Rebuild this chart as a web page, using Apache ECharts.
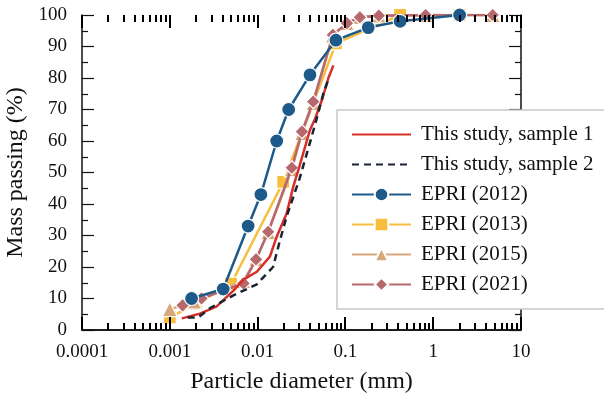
<!DOCTYPE html>
<html>
<head>
<meta charset="utf-8">
<script src="https://cdn.jsdelivr.net/npm/echarts@6/dist/echarts.min.js"></script>
<style>
  html, body { margin: 0; padding: 0; background: #fff; }
  #chart { width: 604px; height: 396px; }
</style>
</head>
<body>
<div id="chart"></div>
<script>
// particle diameter (mm), mass passing (%)
const sample1 = [[0.00137, 3.7], [0.0022, 5.2], [0.0034, 7.4], [0.0053, 12.5], [0.0069, 16], [0.0098, 18.5], [0.0138, 23.3], [0.0165, 29.6], [0.0214, 37], [0.0255, 45.5], [0.03, 52], [0.0395, 63.5], [0.045, 67], [0.054, 73], [0.064, 80], [0.073, 84]];
const sample2 = [[0.0016, 4], [0.0021, 4], [0.0029, 7], [0.0053, 11], [0.0098, 14.5], [0.015, 20], [0.018, 28.5], [0.0214, 36], [0.03, 48], [0.0395, 59.5], [0.047, 67], [0.056, 75], [0.063, 79]];
const epri2012 = [[0.00177, 10], [0.00406, 13], [0.0078, 33], [0.0109, 43], [0.0165, 60], [0.0226, 70], [0.0395, 81], [0.078, 92], [0.182, 96], [0.42, 98], [2, 100]];
const epri2013 = [[0.001, 4], [0.002, 8.3], [0.005, 14.7], [0.0196, 47], [0.078, 91], [0.42, 100], [2, 100]];
const epri2015 = [[0.001, 6.6], [0.0019, 9], [0.0069, 15.5], [0.0096, 22.5], [0.0132, 31], [0.0245, 51], [0.032, 62.5], [0.043, 72], [0.072, 93.5], [0.104, 97.4], [0.146, 99.3], [0.24, 99.8], [0.82, 100], [4.76, 100]];
const epri2021 = [[0.0014, 7.8], [0.0023, 10], [0.0069, 14.8], [0.0096, 22.4], [0.0132, 31.2], [0.0245, 51.5], [0.032, 63], [0.043, 72.5], [0.072, 93.7], [0.104, 97.4], [0.146, 99.3], [0.24, 99.8], [0.82, 100], [4.76, 100]];
const xTicks = [0.0001, 0.001, 0.01, 0.1, 1, 10];

const font = "'Liberation Serif', 'DejaVu Serif', serif";
const textColor = "#111";

// log axis tick marks: decades long, 2..9 short
const xTickMarks = [];
xTicks.forEach((d, i) => {
  xTickMarks.push([d, 13]);
  if (i < xTicks.length - 1) {
    for (let k = 2; k <= 9; k++) xTickMarks.push([d * k, 7]);
  }
});

const chart = echarts.init(document.getElementById("chart"));

const lineSeries = (name, data, color, extra) => ({
  name,
  type: "line",
  data,
  xAxisIndex: 0,
  yAxisIndex: 0,
  lineStyle: { color, width: 2.5 },
  itemStyle: { color, borderColor: "#fff", borderWidth: 1.2 },
  symbolSize: 12,
  showSymbol: true,
  animation: false,
  ...extra
});

const noMarker = { opacity: 0 };

const logAxis = extra => ({
  type: "log",
  logBase: 10,
  min: 0.0001,
  max: 10,
  axisLine: { lineStyle: { color: "#111", width: 1.5 } },
  axisTick: { show: false },
  minorTick: { show: false },
  splitLine: { show: false },
  minorSplitLine: { show: false },
  ...extra
});

const valueAxis = extra => ({
  type: "value",
  min: 0,
  max: 100,
  interval: 10,
  axisLine: { show: true, lineStyle: { color: "#111", width: 1.5 } },
  axisTick: { show: true, inside: true, length: 12, lineStyle: { color: "#111", width: 1.2 } },
  minorTick: { show: true, splitNumber: 2, length: 6, lineStyle: { color: "#111", width: 1.2 } },
  splitLine: { show: false },
  ...extra
});

const option = {
  backgroundColor: "#fff",
  animation: false,
  grid: { left: 82, right: 83, top: 15, bottom: 66, containLabel: false, outerBoundsMode: "none" },
  legend: {
    left: 337,
    top: 110,
    orient: "vertical",
    data: [
      { name: "This study, sample 1", itemStyle: noMarker },
      { name: "This study, sample 2", itemStyle: noMarker },
      "EPRI (2012)", "EPRI (2013)", "EPRI (2015)", "EPRI (2021)"
    ],
    itemWidth: 59,
    itemHeight: 17,
    itemGap: 9,
    padding: [14, 30, 14, 14],
    backgroundColor: "#fff",
    borderColor: "#c8c8c8",
    borderWidth: 1.5,
    borderRadius: 0,
    textStyle: { fontFamily: font, fontSize: 21, color: textColor, lineHeight: 20.5, padding: [0, 0, 0, 5] }
  },
  xAxis: [
    logAxis({
      position: "bottom",
      name: "Particle diameter (mm)",
      nameLocation: "middle",
      nameGap: 40,
      nameTextStyle: { fontFamily: font, fontSize: 24, color: textColor },
      axisLabel: {
        fontFamily: font, fontSize: 19, color: textColor, margin: 13,
        formatter: v => String(parseFloat(Number(v).toPrecision(6)))
      }
    }),
    logAxis({ position: "top", axisLabel: { show: false } })
  ],
  yAxis: [
    valueAxis({
      position: "left",
      name: "Mass passing (%)",
      nameLocation: "middle",
      nameGap: 48,
      nameTextStyle: { fontFamily: font, fontSize: 24, color: textColor },
      axisLabel: { fontFamily: font, fontSize: 19, color: textColor, margin: 15 }
    }),
    valueAxis({ position: "right", axisLabel: { show: false } })
  ],
  series: [
    lineSeries("This study, sample 1", sample1, "#d62f27", { symbol: "none", z: 6 }),
    lineSeries("This study, sample 2", sample2, "#1b2434", {
      symbol: "none", z: 6,
      lineStyle: { color: "#1b2434", width: 2.5, type: [7, 5] }
    }),
    lineSeries("EPRI (2012)", epri2012, "#1d5a89", { symbol: "circle", symbolSize: 14, z: 5 }),
    lineSeries("EPRI (2013)", epri2013, "#f8bd3c", { symbol: "rect", symbolSize: 13, z: 2 }),
    lineSeries("EPRI (2015)", epri2015, "#d8a87c", { symbol: "triangle", symbolSize: 15, z: 3 }),
    lineSeries("EPRI (2021)", epri2021, "#b6686d", { symbol: "diamond", symbolSize: 14, z: 4 })
  ]
};

chart.setOption(option);

// x ticks (bottom and top) positioned through the log axis scale, snapped to whole pixels
const yBottom = chart.convertToPixel({ yAxisIndex: 0 }, 0);
const yTop = chart.convertToPixel({ yAxisIndex: 0 }, 100);
const tickGraphics = [];
xTickMarks.forEach(([v, len]) => {
  const x = Math.round(chart.convertToPixel({ xAxisIndex: 0 }, v));
  tickGraphics.push(
    { type: "line", silent: true, z: 100, shape: { x1: x, y1: yBottom, x2: x, y2: yBottom - len }, style: { stroke: "#000", lineWidth: 2 } },
    { type: "line", silent: true, z: 100, shape: { x1: x, y1: yTop, x2: x, y2: yTop + len }, style: { stroke: "#000", lineWidth: 2 } }
  );
});
chart.setOption({ graphic: tickGraphics });
</script>
</body>
</html>
